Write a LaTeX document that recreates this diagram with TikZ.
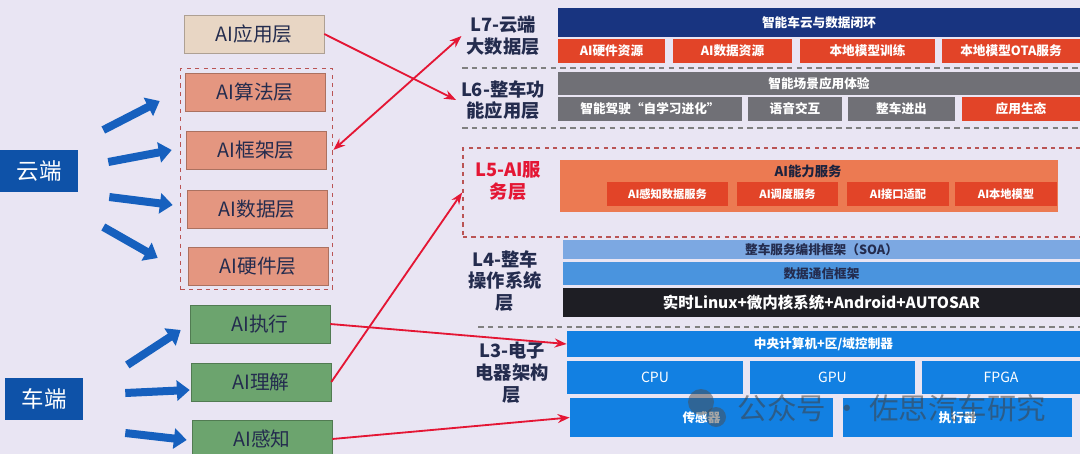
\documentclass[tikz,border=0pt]{standalone}
\usepackage{fontspec}
\setmainfont{Noto Sans CJK SC}
\usetikzlibrary{arrows.meta, positioning, calc, fit}
\definecolor{slidebg}{RGB}{233,229,243}
\definecolor{cloudblue}{RGB}{14,82,168}
\definecolor{arrowblue}{RGB}{22,96,190}
\definecolor{beige}{RGB}{232,214,196}
\definecolor{salmon}{RGB}{228,150,128}
\definecolor{leafgreen}{RGB}{108,164,110}
\definecolor{linkred}{RGB}{228,22,52}
\definecolor{navy}{RGB}{24,52,128}
\definecolor{redorange}{RGB}{226,68,40}
\definecolor{slategray}{RGB}{112,112,118}
\definecolor{lightorange}{RGB}{236,122,82}
\definecolor{skyblue}{RGB}{124,168,226}
\definecolor{midblue}{RGB}{74,148,222}
\definecolor{chipblue}{RGB}{18,128,226}
\definecolor{osblack}{RGB}{30,30,36}
\definecolor{labelnavy}{RGB}{36,44,78}
\definecolor{groupred}{RGB}{186,84,84}

\begin{document}
\begin{tikzpicture}[
                x=0.025cm, y=-0.025cm,
                terminal/.style={rectangle, fill=cloudblue, text=white, minimum width=1.95cm, minimum height=1.05cm, font=\fontsize{16}{18}\selectfont},
                side/.style={rectangle, draw=#1!75!black, fill=#1, minimum width=3.5cm, minimum height=0.95cm, text=labelnavy, font=\fontsize{14}{16}\selectfont},
                fat/.style={arrowblue, line width=0.2cm, -{Triangle[length=0.32cm, width=0.5cm]}},
                link/.style={linkred, line width=1.3pt, -{Stealth[length=0.3cm]}},
                layer/.style={align=center, text=labelnavy, font=\fontsize{13}{15.5}\selectfont\bfseries},
                bar/.style={rectangle, fill=#1, text=white, inner sep=0pt, font=\fontsize{9}{10}\selectfont\bfseries},
                sep/.style={gray, dash pattern=on 4pt off 3pt, line width=0.8pt}
            ]
                \fill[slidebg] (0,0) rectangle (1080,454);
                \useasboundingbox (0,0) rectangle (1080,454);

                % left column
                \node[terminal] (cloud) at (39,171) {云端};
                \node[terminal] (car) at (44,399) {车端};
                \node[side=beige] (app) at (254,34) {AI应用层};
                \node[side=salmon] (algo) at (255,92) {AI算法层};
                \node[side=salmon] (frame) at (256,150) {AI框架层};
                \node[side=salmon] (data) at (257,209) {AI数据层};
                \node[side=salmon] (chip) at (258,266) {AI硬件层};
                \node[side=leafgreen] (act) at (260,324) {AI执行};
                \node[side=leafgreen] (grasp) at (261,382) {AI理解};
                \node[side=leafgreen] (sense) at (262,439) {AI感知};
                \node[draw=groupred, dashed, line width=1.2pt, fit=(algo)(chip), inner sep=3pt] (grp) {};

                \draw[fat] ([shift={(25,-41)}]cloud.east) -- ([shift={(-25,9)}]algo.west);
                \draw[fat] ([shift={(30,-9)}]cloud.east) -- ([shift={(-14,0)}]frame.west);
                \draw[fat] ([shift={(31,26)}]cloud.east) -- ([shift={(-14,-4)}]data.west);
                \draw[fat] ([shift={(25,56)}]cloud.east) -- ([shift={(-30,-8)}]chip.west);
                \draw[fat] ([shift={(44,-34)}]car.east) -- ([shift={(-9,6)}]act.west);
                \draw[fat] ([shift={(42,-6)}]car.east) -- ([shift={(-1,8)}]grasp.west);
                \draw[fat] ([shift={(42,34)}]car.east) -- ([shift={(-5,1)}]sense.west);

                % layer labels
                \node[layer] (l7) at (503,36) {L7-云端\\大数据层};
                \node[layer] (l6) at (503,100) {L6-整车功\\能应用层};
                \node[layer, text=linkred] (l5) at (508,181) {L5-AI服\\务层};
                \node[layer] (l4) at (505,281) {L4-整车\\操作系统\\层};
                \node[layer] (l3) at (512,373) {L3-电子\\电器架构\\层};

                % L7
                \node[bar=navy, minimum width=13.05cm, minimum height=0.725cm] (loop) at (819,22.5) {智能车云与数据闭环};
                \node[bar=redorange, minimum width=2.675cm, minimum height=0.6cm] (hwres) at (611.5,51) {AI硬件资源};
                \node[bar=redorange, minimum width=2.975cm, minimum height=0.6cm] (datares) at (732.5,51) {AI数据资源};
                \node[bar=redorange, minimum width=3.375cm, minimum height=0.6cm] (train) at (867.5,51) {本地模型训练};
                \node[bar=redorange, minimum width=3.45cm, minimum height=0.6cm] (ota) at (1011,51) {本地模型OTA服务};
                \draw[sep] (462,68) -- (1080,68);

                % L6
                \node[bar=slategray, minimum width=13.05cm, minimum height=0.575cm] (scene) at (819,83.5) {智能场景应用体验};
                \node[bar=slategray, minimum width=4.6cm, minimum height=0.6cm] (drive) at (650,109) {智能驾驶“自学习进化”};
                \node[bar=slategray, minimum width=2.35cm, minimum height=0.6cm] (voice) at (795,109) {语音交互};
                \node[bar=slategray, minimum width=2.675cm, minimum height=0.6cm] (entry) at (901.5,109) {整车进出};
                \node[bar=redorange, minimum width=2.95cm, minimum height=0.6cm] (eco) at (1021,109) {应用生态};
                \draw[sep] (462,128) -- (1080,128);

                % L5
                \node[fit={(463,148) (1090,237)}, inner sep=0pt, draw=groupred, dashed, line width=1.2pt] (l5box) {};
                \node[fit={(560,160) (1058,212)}, inner sep=0pt, fill=lightorange] (aisvc) {};
                \node[font=\fontsize{9.5}{11}\selectfont\bfseries, text=labelnavy!80!black] (aititle) at (808,171) {AI能力服务};
                \node[bar=redorange, minimum width=3.025cm, minimum height=0.6cm, font=\fontsize{8}{9}\selectfont\bfseries] (s1) at (667.5,194) {AI感知数据服务};
                \node[bar=redorange, minimum width=2.525cm, minimum height=0.6cm, font=\fontsize{8}{9}\selectfont\bfseries] (s2) at (787.5,194) {AI调度服务};
                \node[bar=redorange, minimum width=2.55cm, minimum height=0.6cm, font=\fontsize{8}{9}\selectfont\bfseries] (s3) at (898,194) {AI接口适配};
                \node[bar=redorange, minimum width=2.55cm, minimum height=0.6cm, font=\fontsize{8}{9}\selectfont\bfseries] (s4) at (1006,194) {AI本地模型};

                % L4
                \node[bar=skyblue, text=labelnavy, minimum width=12.925cm, minimum height=0.475cm] (soa) at (821.5,249.5) {整车服务编排框架（SOA）};
                \node[bar=midblue, text=labelnavy, minimum width=12.925cm, minimum height=0.575cm] (comm) at (821.5,273.5) {数据通信框架};
                \node[bar=osblack, minimum width=12.925cm, minimum height=0.725cm, font=\fontsize{11}{12}\selectfont\bfseries] (rtos) at (821.5,302.5) {实时Linux+微内核系统+Android+AUTOSAR};
                \draw[sep] (478,327) -- (1080,327);

                % L3
                \node[bar=chipblue, minimum width=12.825cm, minimum height=0.65cm] (ccu) at (823.5,344) {中央计算机+区/域控制器};
                \node[bar=chipblue, minimum width=4.4cm, minimum height=0.825cm, font=\fontsize{10}{11}\selectfont] (cpu) at (655,377) {CPU};
                \node[bar=chipblue, minimum width=4.125cm, minimum height=0.825cm, font=\fontsize{10}{11}\selectfont] (gpu) at (832.5,377) {GPU};
                \node[bar=chipblue, minimum width=3.95cm, minimum height=0.825cm, font=\fontsize{10}{11}\selectfont] (fpga) at (1001,377) {FPGA};
                \node[bar=chipblue, minimum width=6.575cm, minimum height=0.975cm] (sensor) at (701.5,417.5) {传感器};
                \node[bar=chipblue, minimum width=5.725cm, minimum height=0.975cm] (actuator) at (957.5,417.5) {执行器};

                % links
                \draw[link] (app.east) -- (l6.west);
                \draw[link, {Stealth[length=0.3cm]}-{Stealth[length=0.3cm]}] (grp.east |- frame.east) -- (l7.west);
                \draw[link] (grasp.east) -- (l5box.west);
                \draw[link] (act.east) -- (ccu.west);
                \draw[link] (sense.east) -- (sensor.west);

                % watermark
                \fill[black!70, opacity=0.5] (701,402) circle (13);
                \fill[black!70, opacity=0.5] (716,417) circle (10);
                \node[font=\fontsize{21}{24}\selectfont, text=black!75, opacity=0.55] (mark) at (892,408) {公众号 · 佐思汽车研究};
            \end{tikzpicture}
\end{document}
